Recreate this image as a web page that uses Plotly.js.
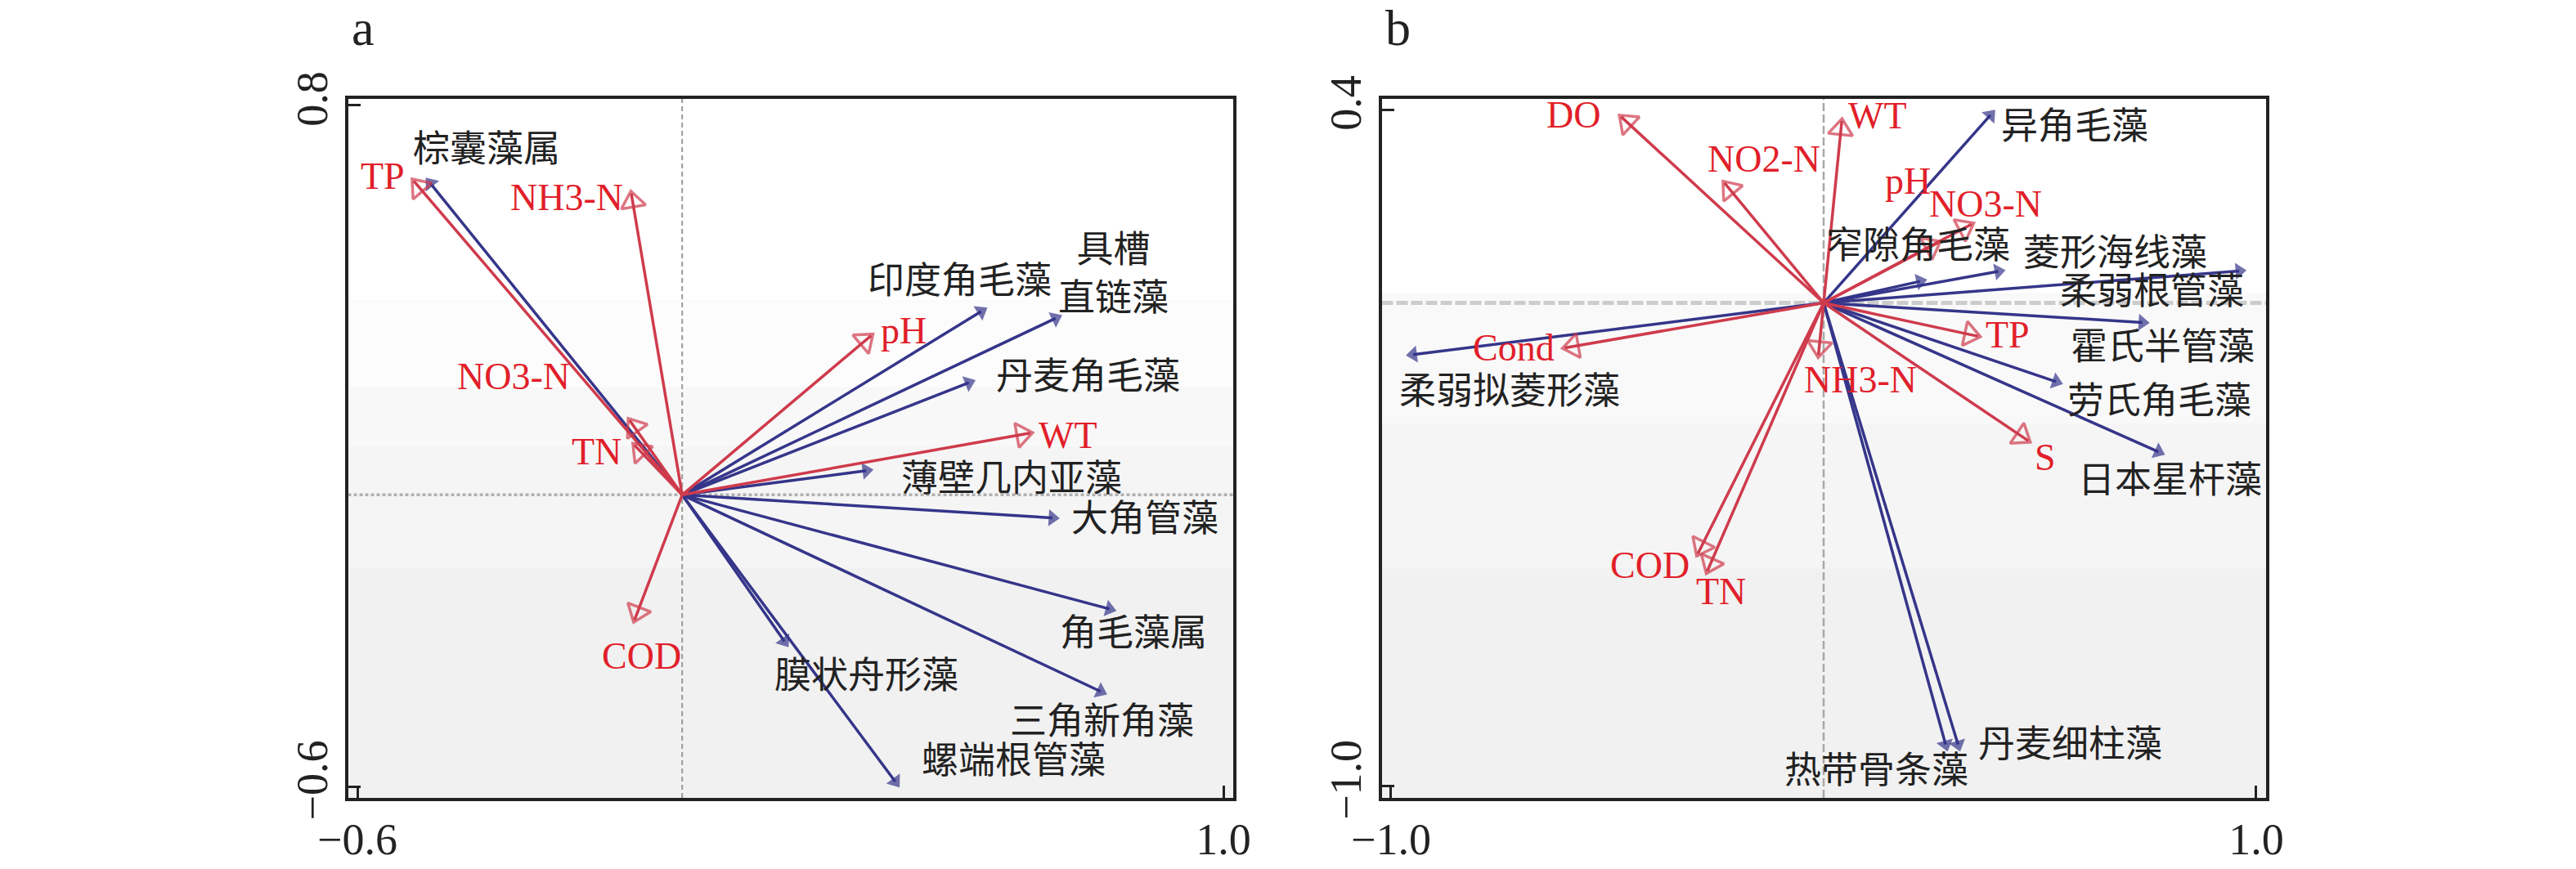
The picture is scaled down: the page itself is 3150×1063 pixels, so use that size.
<!DOCTYPE html>
<html><head><meta charset="utf-8">
<script src="https://cdn.plot.ly/plotly-3.0.1.min.js"></script>
<style>html,body{margin:0;padding:0;background:#fff}</style>
</head><body>
<div id="chart" style="width:3150px;height:1063px"></div>
<script>
// ---------- Panel a data ----------
const aSpecies  = ['棕囊藻属','印度角毛藻','具槽<br>直链藻','丹麦角毛藻','薄壁几内亚藻','大角管藻','角毛藻属','三角新角藻','膜状舟形藻','螺端根管藻'];
const aSpeciesX = [-0.471, 0.560, 0.698, 0.538, 0.349, 0.693, 0.798, 0.781, 0.194, 0.399];
const aSpeciesY = [ 0.648, 0.382, 0.367, 0.234, 0.051,-0.048,-0.237,-0.408,-0.309,-0.597];
const aEnv  = ['TP','NH3-N','NO3-N','TN','pH','WT','COD'];
const aEnvX = [-0.496,-0.094,-0.097,-0.088, 0.349, 0.643,-0.088];
const aEnvY = [ 0.645, 0.619, 0.153, 0.102, 0.327, 0.127,-0.257];
const aXTicks = [-0.6, 1.0], aXTickText = ['−0.6','1.0'];
const aYTicks = [-0.6, 0.8], aYTickText = ['−0.6','0.8'];

// ---------- Panel b data ----------
const bSpecies  = ['异角毛藻','窄隙角毛藻','菱形海线藻','柔弱根管藻','霍氏半管藻','劳氏角毛藻','日本星杆藻','柔弱拟菱形藻','热带骨条藻','丹麦细柱藻'];
const bSpeciesX = [0.393, 0.234, 0.415, 0.972, 0.748, 0.548, 0.784,-0.960, 0.285, 0.314];
const bSpeciesY = [0.396, 0.047, 0.067, 0.067,-0.041,-0.166,-0.312,-0.108,-0.923,-0.923];
const bEnv  = ['DO','WT','NO2-N','pH','NO3-N','TP','Cond','NH3-N','S','COD','TN'];
const bEnvX = [-0.468, 0.042,-0.229, 0.265, 0.342, 0.357,-0.598,-0.012, 0.473,-0.291,-0.269];
const bEnvY = [ 0.385, 0.376, 0.248, 0.125, 0.163,-0.069,-0.093,-0.108,-0.285,-0.519,-0.555];
const bXTicks = [-1.0, 1.0], bXTickText = ['−1.0','1.0'];
const bYTicks = [-1.0, 0.4], bYTickText = ['−1.0','0.4'];

// ---------- label placement (screen px offsets from arrow tip: right, down) ----------
const aSpeciesOff = [[73,-36],[-31,-34],[65,-51],[140,-5],[172,11],[107,1],[24,29],[-4,35],[97,38],[141,-30]];
const aEnvOff     = [[-38,-6],[-79,5],[-142,-54],[-46,8],[40,-6],[46,3],[9,44]];
const bSpeciesOff = [[99,19],[-8,-42],[137,-21],[-113,26],[19,30],[121,22],[9,33],[124,45],[-86,27],[135,-5]];
const bEnvOff     = [[-58,-2],[44,-7],[48,-29],[-37,-75],[17,-25],[36,-2],[-63,0],[51,30],[21,20],[-59,14],[17,25]];

const BLUE = '#35358a', RED = '#cf3b4c', REDTXT = '#e11f2a', INK = '#222';
const SERIF = 'Liberation Serif, Times New Roman, serif';
const CJK = 'Liberation Serif, Noto Sans CJK SC, serif';

const traces = [], annotations = [];
function addArrows(names, xs, ys, offs, isEnv, xa, ya) {
  names.forEach((n, i) => {
    traces.push({
      type: 'scatter', mode: 'lines+markers', x: [0, xs[i]], y: [0, ys[i]],
      xaxis: xa, yaxis: ya, hoverinfo: 'skip', showlegend: false, cliponaxis: false,
      line: {color: isEnv ? RED : BLUE, width: 3.5},
      marker: isEnv
        ? {symbol: ['circle', 'triangle-up-open'], size: [0, 26], angleref: 'previous', standoff: 10,
           color: RED, line: {color: RED, width: 3.5}}
        : {symbol: ['circle', 'triangle-up'], size: [0, 18], angleref: 'previous', standoff: 6,
           color: BLUE, line: {width: 0}}
    });
    annotations.push({
      x: xs[i], y: ys[i], xref: xa, yref: ya, text: n, showarrow: false,
      xanchor: 'center', yanchor: 'middle', align: 'center',
      xshift: offs[i][0], yshift: -offs[i][1],
      font: isEnv ? {family: SERIF, size: 46, color: REDTXT} : {family: CJK, size: 45, color: INK}
    });
  });
}
addArrows(aSpecies, aSpeciesX, aSpeciesY, aSpeciesOff, false, 'x', 'y');
addArrows(aEnv, aEnvX, aEnvY, aEnvOff, true, 'x', 'y');
addArrows(bSpecies, bSpeciesX, bSpeciesY, bSpeciesOff, false, 'x2', 'y2');
addArrows(bEnv, bEnvX, bEnvY, bEnvOff, true, 'x2', 'y2');

annotations.push({xref:'paper', yref:'paper', x: 428/3150, y: 1-34/1063, xanchor:'left', yanchor:'middle',
  text:'a', showarrow:false, font:{family:SERIF, size:62, color:INK}});
annotations.push({xref:'paper', yref:'paper', x: 1692/3150, y: 1-34/1063, xanchor:'left', yanchor:'middle',
  text:'b', showarrow:false, font:{family:SERIF, size:62, color:INK}});

function axisBase(extra) {
  return Object.assign({
    showgrid: false, zeroline: false, showline: true, linewidth: 4, linecolor: INK, mirror: true,
    ticks: 'inside', ticklen: 15, tickwidth: 3, tickcolor: INK, fixedrange: true,
    tickfont: {family: SERIF, size: 54, color: INK}, ticklabelstandoff: 0
  }, extra);
}

function bands(xd, yr, stops) {
  return stops.map(s => ({type:'rect', xref: xd, yref: yr, x0:0, x1:1, y0:s[0], y1:s[1],
    fillcolor: s[2], line:{width:0}, layer:'below'}));
}
const shapes = [].concat(
  bands('x domain', 'y', [[0.40,0.8134,'#ffffff'],[0.22,0.40,'#fcfcfc'],[0.10,0.22,'#f8f8f8'],[-0.15,0.10,'#f5f5f5']]),
  bands('x2 domain', 'y2', [[0.02,0.422,'#ffffff'],[-0.25,0.02,'#f9f9f9'],[-0.55,-0.25,'#f5f5f5']]),
  [
  {type:'line', xref:'x', yref:'y domain', x0:0, x1:0, y0:0, y1:1, line:{color:'#9a9a9a', width:2, dash:'6px,4px'}, layer:'below'},
  {type:'line', xref:'x domain', yref:'y', x0:0, x1:1, y0:0, y1:0, line:{color:'#b0b0b0', width:3.5, dash:'4px,3px'}, layer:'below'},
  {type:'line', xref:'x2', yref:'y2 domain', x0:0, x1:0, y0:0, y1:1, line:{color:'#a8a8a8', width:2.5, dash:'10px,4px'}, layer:'below'},
  {type:'line', xref:'x2 domain', yref:'y2', x0:0, x1:1, y0:0, y1:0, line:{color:'#cccccc', width:5, dash:'14px,4px'}, layer:'below'}
  ]
);

const layout = {
  width: 3150, height: 1063, margin: {l:0, r:0, t:0, b:0},
  paper_bgcolor: '#ffffff', plot_bgcolor: '#f1f1f1', showlegend: false,
  xaxis:  axisBase({domain:[425.5/3150, 1508/3150], range:[-0.6174, 1.018], tickvals:aXTicks, ticktext:aXTickText, anchor:'y'}),
  yaxis:  axisBase({domain:[1-976/1063, 1-121/1063], range:[-0.6225, 0.8134], tickvals:aYTicks, ticktext:aYTickText, tickangle:-90, anchor:'x'}),
  xaxis2: axisBase({domain:[1689.5/3150, 2771/3150], range:[-1.0217, 1.0227], tickvals:bXTicks, ticktext:bXTickText, anchor:'y2'}),
  yaxis2: axisBase({domain:[1-976/1063, 1-121/1063], range:[-1.0237, 0.422], tickvals:bYTicks, ticktext:bYTickText, tickangle:-90, anchor:'x2'}),
  shapes: shapes, annotations: annotations
};
Plotly.newPlot('chart', traces, layout, {staticPlot: true, displayModeBar: false});
</script>
</body></html>
